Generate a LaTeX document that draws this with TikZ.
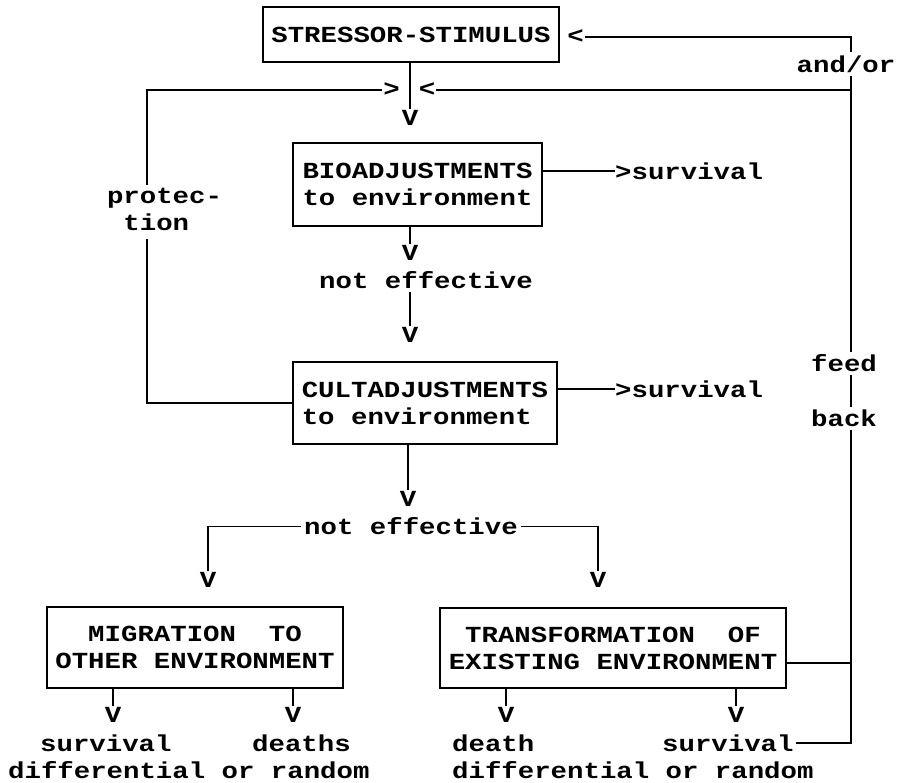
\documentclass[tikz,border=0pt]{standalone}
\usepackage{fontspec}
\setmainfont{Liberation Mono}[FakeStretch=1.19]
\frenchspacing

\tikzset{
	box/.style={draw, line width=1.9pt, inner sep=0pt},
	lbl/.style={inner sep=3pt},
	tipv/.style={inner sep=1pt},
	txt/.style={anchor=base west, inner sep=0pt},
	con/.style={line width=1.6pt},
}

\begin{document}
\begin{tikzpicture}[x=1pt, y=-1pt, font=\fontsize{23pt}{27pt}\selectfont\bfseries]
	\useasboundingbox (0,0) rectangle (897,783);
	\node[box, minimum width=296pt, minimum height=55pt] (stim) at (411,34.5) {STRESSOR-STIMULUS};
	\node[box, minimum width=249pt, minimum height=83pt, align=left] (bio) at (417.5,184.5) {BIOADJUSTMENTS\\to environment};
	\node[box, minimum width=264pt, minimum height=82pt, align=left] (cult) at (425,403) {CULTADJUSTMENTS\\to environment};
	\node[box, minimum width=296pt, minimum height=81pt, align=center] (migr) at (195,647.5) {MIGRATION\ \ TO\\OTHER ENVIRONMENT};
	\node[box, minimum width=346pt, minimum height=80pt, align=center] (trans) at (613,648) {TRANSFORMATION\ \ OF\\EXISTING ENVIRONMENT};

	\node[tipv] (ltop) at (575.5,37) {<};
	\node[tipv] (gtin) at (391.5,90) {>};
	\node[tipv] (ltin) at (427,90) {<};
	\node[tipv] (vstim) at (410,118) {V};
	\node[tipv] (vbio1) at (410,253) {V};
	\node[tipv] (vbio2) at (410,334.5) {V};
	\node[tipv] (vcult) at (408,498.5) {V};
	\node[tipv] (vmigr) at (208,579.5) {V};
	\node[tipv] (vtrans) at (598,579.5) {V};
	\node[tipv] (vm1) at (113,714.5) {V};
	\node[tipv] (vm2) at (293,714.5) {V};
	\node[tipv] (vt1) at (506,714.5) {V};
	\node[tipv] (vt2) at (736,714.5) {V};

	\node[lbl] (andor) at (846,64) {and/or};
	\node[lbl] (feed) at (844,363.5) {feed};
	\node[lbl] (back) at (844,418.5) {back};
	\node[lbl, align=left] (prot) at (164.5,212) {protec-\\\phantom{p}tion};
	\node[lbl] (neff1) at (426,280.5) {not effective};
	\node[lbl] (neff2) at (411,526.5) {not effective};
	\node[anchor=west, inner sep=0pt] (surv1) at (615,171) {>survival};
	\node[anchor=west, inner sep=0pt] (surv2) at (615,389) {>survival};

	\node[txt] (msurv) at (40,751) {survival};
	\node[txt] (mdeath) at (252,751) {deaths};
	\node[txt] (mdiff) at (8,778) {differential or random};
	\node[txt] (tdeath) at (452,751) {death};
	\node[txt] (tsurv) at (662,751) {survival};
	\node[txt] (tdiff) at (452,778) {differential or random};

	\coordinate (fb) at (851,0);
	\coordinate (lft) at (147,0);
	\coordinate (tj) at (851,663);

	\draw[con] (ltop.east) -| (fb |- andor.north);
	\draw[con] (fb |- andor.south) -- (fb |- feed.north);
	\draw[con] (ltin.east) -- (fb |- ltin.east);
	\draw[con] (fb |- feed.south) -- (fb |- back.north);
	\draw[con] (fb |- back.south) |- ([xshift=2pt]tsurv.east);
	\draw[con] (trans.east |- tj) -- (tj);
	\draw[con] (gtin.west) -| (lft |- prot.north);
	\draw[con] (lft |- prot.south) |- (cult.west);
	\draw[con] (neff2.west) -| (vmigr.north);
	\draw[con] (neff2.east) -| (vtrans.north);
	\path[con]
		(vstim |- stim.south) edge (vstim.north)
		(bio.east |- surv1.west) edge (surv1.west)
		(cult.east |- surv2.west) edge (surv2.west)
		(vbio1 |- bio.south) edge (vbio1.north)
		(vbio2 |- neff1.south) edge (vbio2.north)
		(vcult |- cult.south) edge (vcult.north)
		(vm1 |- migr.south) edge (vm1.north)
		(vm2 |- migr.south) edge (vm2.north)
		(vt1 |- trans.south) edge (vt1.north)
		(vt2 |- trans.south) edge (vt2.north);
\end{tikzpicture}
\end{document}
